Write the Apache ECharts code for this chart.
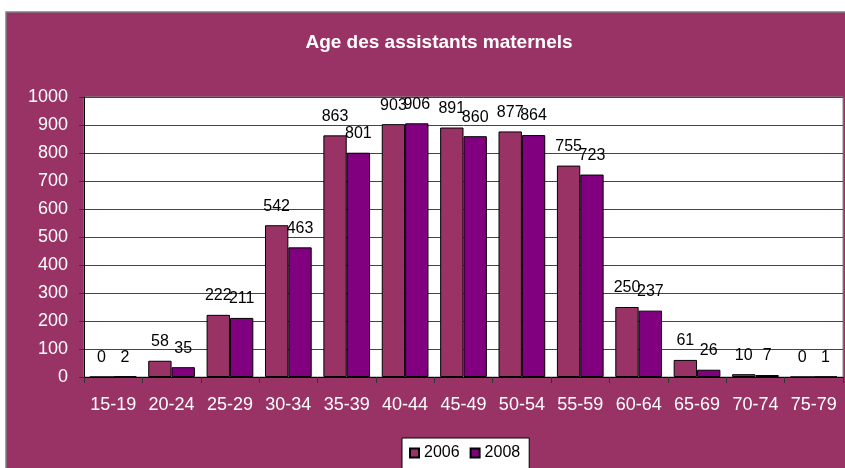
<!DOCTYPE html>
<html><head><meta charset="utf-8">
<script src="https://cdn.jsdelivr.net/npm/echarts@6/dist/echarts.min.js"></script>
<style>html,body{margin:0;padding:0;background:#fff}#c{width:845px;height:468px}</style>
</head><body><div id="c"></div>
<script>
var categories = ['15-19','20-24','25-29','30-34','35-39','40-44','45-49','50-54','55-59','60-64','65-69','70-74','75-79'];
var values2006 = [0,58,222,542,863,903,891,877,755,250,61,10,0];
var values2008 = [2,35,211,463,801,906,860,864,723,237,26,7,1];
var yTicks = {min:0, max:1000, interval:100};
var titleText = 'Age des assistants maternels';
var chart = echarts.init(document.getElementById('c'));
var ff = 'Liberation Sans, Arial, sans-serif';
var lbl = {show:true, position:'top', distance:11, color:'#000', fontSize:16, fontFamily:ff};
chart.setOption({
  backgroundColor:'#fff',
  animation:false,
  graphic:[
    {type:'rect', z:-10, shape:{x:6,y:12,width:845,height:462}, style:{fill:'#993366', stroke:'#808080', lineWidth:1.5}}
  ],
  title:{text:titleText, left:434, textAlign:'center', top:28,
    textStyle:{color:'#fff', fontSize:19, fontWeight:'bold', fontFamily:ff}},
  legend:{top:438, left:402, backgroundColor:'#fff', borderColor:'#000', borderWidth:1,
    padding:[7,9,12,7], itemWidth:9, itemHeight:9, itemGap:10, icon:'rect',
    textStyle:{color:'#000', fontSize:16, fontFamily:ff},
    data:['2006','2008']},
  grid:{left:84, right:2, top:97, bottom:91, show:true, backgroundColor:'#fff', borderColor:'#888', borderWidth:1},
  xAxis:{type:'category', data:categories,
    axisLine:{lineStyle:{color:'#000'}},
    axisTick:{show:true, length:6, lineStyle:{color:'#333'}},
    axisLabel:{color:'#fff', fontSize:18, margin:19, interval:0, fontFamily:ff}},
  yAxis:{type:'value', min:yTicks.min, max:yTicks.max, interval:yTicks.interval,
    axisLine:{show:true, lineStyle:{color:'#000'}},
    axisTick:{show:true, length:5, lineStyle:{color:'#333'}},
    splitLine:{lineStyle:{color:'#444', width:1}},
    axisLabel:{color:'#fff', fontSize:18, margin:16, fontFamily:ff, formatter:function(v){return String(v);}}},
  series:[
    {name:'2006', type:'bar', data:values2006, barGap:'0%', barCategoryGap:'20%',
      itemStyle:{color:'#993366', borderColor:'#000', borderWidth:1}, label:lbl},
    {name:'2008', type:'bar', data:values2008,
      itemStyle:{color:'#800080', borderColor:'#000', borderWidth:1}, label:lbl}
  ]
});
</script></body></html>
